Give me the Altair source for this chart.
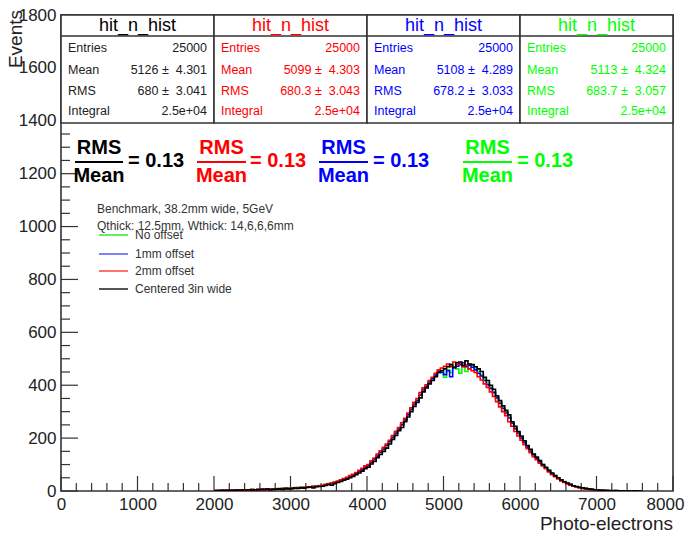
import altair as alt
import pandas as pd

# ---------------- data ----------------
BIN_START = 2000
BIN_WIDTH = 40

centered_3in = [
    2, 1, 3, 2, 3, 3, 2, 4, 3, 4, 4, 5, 3, 5, 4, 6, 5, 7, 4, 6,
    7, 8, 6, 9, 8, 9, 11, 10, 12, 11, 13, 15, 12, 16, 17, 18, 21, 24, 22, 28,
    32, 36, 41, 45, 50, 55, 62, 68, 75, 84, 90, 102, 112, 126, 138, 150, 162, 178, 195, 210,
    228, 240, 262, 280, 300, 320, 335, 352, 375, 390, 405, 418, 432, 448, 455, 462, 470, 478, 468, 485,
    488, 475, 492, 480, 478, 470, 462, 452, 430, 418, 400, 385, 360, 342, 322, 305, 288, 262, 245, 225,
    208, 190, 172, 158, 140, 128, 115, 100, 90, 78, 68, 58, 50, 42, 35, 30, 25, 20, 17, 14,
    12, 10, 8, 6, 5, 4, 3, 3, 2, 2, 1, 2, 1, 1, 0, 1, 0, 1, 0, 0,
]
offset_2mm = [
    2, 3, 2, 4, 3, 3, 4, 3, 5, 4, 5, 4, 6, 5, 6, 6, 7, 5, 8, 7,
    8, 9, 8, 10, 9, 11, 10, 13, 12, 14, 15, 14, 18, 17, 20, 22, 24, 27, 30, 34,
    38, 42, 47, 52, 58, 63, 70, 78, 86, 95, 100, 114, 125, 140, 152, 165, 178, 192, 210, 226,
    240, 258, 275, 295, 315, 335, 350, 372, 390, 402, 418, 430, 445, 458, 465, 472, 480, 470, 488, 478,
    482, 470, 476, 462, 455, 448, 432, 420, 405, 392, 375, 358, 338, 318, 300, 285, 262, 245, 225, 208,
    192, 175, 160, 145, 130, 118, 105, 95, 84, 72, 62, 54, 46, 38, 32, 27, 22, 18, 15, 12,
    10, 8, 7, 5, 4, 4, 3, 2, 2, 1, 2, 1, 1, 0, 1, 0, 1, 0, 0, 0,
]
offset_1mm = [
    1, 2, 2, 3, 2, 3, 3, 4, 3, 5, 4, 5, 5, 4, 6, 5, 7, 6, 7, 8,
    8, 7, 9, 10, 9, 10, 12, 11, 13, 13, 14, 16, 17, 18, 19, 20, 23, 26, 28, 31,
    35, 39, 44, 48, 54, 60, 66, 73, 80, 90, 96, 108, 120, 132, 146, 158, 172, 186, 202, 218,
    234, 250, 268, 288, 308, 328, 342, 362, 382, 396, 412, 425, 438, 452, 448, 440, 455, 432, 465, 472,
    478, 485, 470, 475, 468, 458, 445, 435, 418, 402, 388, 372, 352, 332, 312, 295, 276, 255, 235, 218,
    200, 183, 166, 150, 136, 122, 110, 98, 86, 75, 65, 56, 48, 40, 34, 28, 24, 19, 16, 13,
    11, 9, 7, 6, 4, 3, 3, 2, 2, 1, 1, 1, 1, 0, 0, 1, 0, 0, 0, 0,
]
no_offset = [
    2, 2, 3, 2, 4, 3, 4, 3, 4, 5, 5, 4, 6, 5, 5, 6, 6, 8, 7, 7,
    9, 8, 10, 9, 11, 10, 13, 12, 14, 13, 16, 15, 18, 19, 21, 22, 25, 28, 30, 33,
    36, 40, 45, 50, 56, 62, 68, 76, 82, 92, 98, 110, 122, 135, 148, 160, 175, 190, 205, 220,
    236, 252, 270, 290, 310, 330, 344, 365, 384, 398, 414, 426, 440, 448, 452, 430, 458, 448, 470, 462,
    445, 470, 452, 480, 475, 465, 452, 440, 425, 408, 392, 375, 356, 336, 316, 300, 280, 258, 240, 222,
    205, 186, 170, 154, 140, 126, 112, 100, 88, 78, 68, 58, 50, 42, 36, 30, 25, 20, 17, 14,
    11, 9, 8, 6, 5, 4, 3, 3, 2, 1, 1, 2, 1, 0, 1, 0, 1, 0, 0, 0,
]

hist_names = ["No offset", "1mm offset", "2mm offset", "Centered 3in wide"]
hist_counts = [no_offset, offset_1mm, offset_2mm, centered_3in]

stat_title = "hit_n_hist"
stat_entries = [25000, 25000, 25000, 25000]
stat_mean = ["5126", "5099", "5108", "5113"]
stat_mean_err = ["4.301", "4.303", "4.289", "4.324"]
stat_rms = ["680", "680.3", "678.2", "683.7"]
stat_rms_err = ["3.041", "3.043", "3.033", "3.057"]
stat_integral = ["2.5e+04", "2.5e+04", "2.5e+04", "2.5e+04"]
ratio_text = ["0.13", "0.13", "0.13", "0.13"]

note_lines = ["Benchmark, 38.2mm wide, 5GeV", "Qthick: 12.5mm, Wthick: 14,6,6,6mm"]

x_tick_values = list(range(0, 8001, 1000))
y_tick_values = list(range(0, 1801, 200))

# ---------------- styles / layout ----------------
FONT = "Liberation Sans"
W, H = 612, 476
X_DOMAIN = [0, 8000]
Y_DOMAIN = [0, 1800]
hist_colors = {"No offset": "#00ff00", "1mm offset": "#0000ff",
               "2mm offset": "#ff0000", "Centered 3in wide": "#000000"}
legend_colors = ["#66ee66", "#8080ff", "#ff7070", "#555555"]
stat_colors = ["#222222", "#ff0000", "#0000ff", "#00ff00"]
frac_colors = ["#000000", "#ff0000", "#0000ff", "#00ff00"]
FRAME = "#333333"


def px2x(px):
    return X_DOMAIN[0] + px / W * (X_DOMAIN[1] - X_DOMAIN[0])


def py2y(py):
    return Y_DOMAIN[1] - py / H * (Y_DOMAIN[1] - Y_DOMAIN[0])


xs = alt.Scale(domain=X_DOMAIN, nice=False, zero=False)
ys = alt.Scale(domain=Y_DOMAIN, nice=False, zero=False)

x_axis = alt.Axis(values=x_tick_values, ticks=False, grid=False, domain=False,
                  title=None, labelFontSize=17, labelFont=FONT, labelColor="#222",
                  labelFlush=False, labelOverlap=False, labelPadding=5, format="d",
                  labelOffset={"condition": {"test": f"datum.value == {X_DOMAIN[1]}", "value": -8},
                               "value": 0})
y_axis = alt.Axis(values=y_tick_values, ticks=False, grid=False, domain=False,
                  title=None, labelFontSize=17, labelFont=FONT, labelColor="#222",
                  labelFlush=False, labelOverlap=False, labelPadding=5, format="d")

XN = lambda f: alt.X(f, type="quantitative", scale=xs, axis=x_axis)
YN = lambda f: alt.Y(f, type="quantitative", scale=ys, axis=y_axis)

# ---------------- ticks ----------------
x_major = pd.DataFrame({"v": x_tick_values})
x_minor = pd.DataFrame({"v": [v for v in range(0, 8000, 200) if v % 1000]})
y_major = pd.DataFrame({"v": y_tick_values})
y_minor = pd.DataFrame({"v": [v for v in range(0, 1800, 50) if v % 200]})

xmaj = alt.Chart(x_major).mark_rule(color=FRAME, strokeWidth=1.2).encode(
    x=XN("v"), y=alt.value(H), y2=alt.value(H - 15))
xmin = alt.Chart(x_minor).mark_rule(color=FRAME, strokeWidth=1.2).encode(
    x=XN("v"), y=alt.value(H), y2=alt.value(H - 8))
ymaj = alt.Chart(y_major).mark_rule(color=FRAME, strokeWidth=1.2).encode(
    y=YN("v"), x=alt.value(0), x2=alt.value(17))
ymin = alt.Chart(y_minor).mark_rule(color=FRAME, strokeWidth=1.2).encode(
    y=YN("v"), x=alt.value(0), x2=alt.value(9))

# ---------------- histograms ----------------
hist_layers = []
for name, counts in zip(hist_names, hist_counts):
    xsv = [BIN_START + i * BIN_WIDTH for i in range(len(counts))] + [BIN_START + len(counts) * BIN_WIDTH]
    ysv = list(counts) + [counts[-1]]
    df = pd.DataFrame({"x": xsv, "y": ysv})
    hist_layers.append(
        alt.Chart(df).mark_line(interpolate="step-after", color=hist_colors[name],
                                strokeWidth=1.6, clip=True).encode(x=XN("x"), y=YN("y")))

# ---------------- stat boxes ----------------
nbox = 4
box_w = (X_DOMAIN[1] - X_DOMAIN[0]) / nbox
boxes = pd.DataFrame({"x0": [i * box_w for i in range(nbox)],
                      "x1": [(i + 1) * box_w for i in range(nbox)],
                      "y0": [py2y(0)] * nbox, "y1": [py2y(108)] * nbox,
                      "yh": [py2y(21)] * nbox})
box_rect = alt.Chart(boxes).mark_rect(fill="white", stroke=FRAME, strokeWidth=1.6).encode(
    x=XN("x0"), x2="x1:Q", y=YN("y0"), y2="y1:Q")
head_line = alt.Chart(boxes).mark_rule(color=FRAME, strokeWidth=1.6).encode(
    x=XN("x0"), x2="x1:Q", y=YN("yh"))

NB = "\u00a0"
rows_label, rows_val = [], []
row_py = [33, 55, 76, 96]
for i in range(nbox):
    labels = ["Entries", "Mean", "RMS", "Integral"]
    vals = [str(stat_entries[i]), f"{stat_mean[i]} ±{NB} {stat_mean_err[i]}",
            f"{stat_rms[i]} ±{NB} {stat_rms_err[i]}", stat_integral[i]]
    for lab, val, py in zip(labels, vals, row_py):
        rows_label.append({"x": i * box_w, "y": py2y(py), "t": lab, "c": stat_colors[i]})
        rows_val.append({"x": (i + 1) * box_w, "y": py2y(py), "t": val, "c": stat_colors[i]})
heads = pd.DataFrame({"x": [(i + 0.5) * box_w for i in range(nbox)], "y": [py2y(11)] * nbox,
                      "t": [stat_title] * nbox, "c": frac_colors})

head_txt = alt.Chart(heads).mark_text(font=FONT, fontSize=18, baseline="middle", align="center").encode(
    x=XN("x"), y=YN("y"), text="t:N", color=alt.Color("c:N", scale=None))
lab_txt = alt.Chart(pd.DataFrame(rows_label)).mark_text(font=FONT, fontSize=12.5, align="left",
                                                        baseline="middle", dx=7).encode(
    x=XN("x"), y=YN("y"), text="t:N", color=alt.Color("c:N", scale=None))
val_txt = alt.Chart(pd.DataFrame(rows_val)).mark_text(font=FONT, fontSize=12.5, align="right",
                                                      baseline="middle", dx=-7).encode(
    x=XN("x"), y=YN("y"), text="t:N", color=alt.Color("c:N", scale=None))

# ---------------- RMS/Mean fractions ----------------
frac_line_x = [(14, 62), (136, 185), (258, 307), (402, 451)]
frac_eq_x = [67, 189, 312, 456]
fr_rows, fr_lines, fr_eq = [], [], []
for i in range(nbox):
    a, b = frac_line_x[i]
    c = (a + b) / 2
    fr_rows.append({"x": px2x(c), "y": py2y(133), "t": "RMS", "c": frac_colors[i]})
    fr_rows.append({"x": px2x(c), "y": py2y(161), "t": "Mean", "c": frac_colors[i]})
    fr_lines.append({"a": px2x(a), "b": px2x(b), "y": py2y(147), "c": frac_colors[i]})
    fr_eq.append({"x": px2x(frac_eq_x[i]), "y": py2y(146), "t": f"= {ratio_text[i]}", "c": frac_colors[i]})

fr_txt = alt.Chart(pd.DataFrame(fr_rows)).mark_text(font=FONT, fontSize=20, fontWeight="bold",
                                                    align="center", baseline="middle").encode(
    x=XN("x"), y=YN("y"), text="t:N", color=alt.Color("c:N", scale=None))
fr_rule = alt.Chart(pd.DataFrame(fr_lines)).mark_rule(strokeWidth=2).encode(
    x=XN("a"), x2="b:Q", y=YN("y"), color=alt.Color("c:N", scale=None))
fr_eqt = alt.Chart(pd.DataFrame(fr_eq)).mark_text(font=FONT, fontSize=20, fontWeight="bold",
                                                  align="left", baseline="middle").encode(
    x=XN("x"), y=YN("y"), text="t:N", color=alt.Color("c:N", scale=None))

# ---------------- notes + legend ----------------
notes = pd.DataFrame({"x": [px2x(36)] * 2, "y": [py2y(194), py2y(211)], "t": note_lines})
note_txt = alt.Chart(notes).mark_text(font=FONT, fontSize=12, align="left", baseline="middle",
                                      color="#333").encode(x=XN("x"), y=YN("y"), text="t:N")

leg_py = [220, 239, 256, 274]
leg = pd.DataFrame({"a": [px2x(38)] * 4, "b": [px2x(67)] * 4, "tx": [px2x(74)] * 4,
                    "y": [py2y(p) for p in leg_py], "t": hist_names, "c": legend_colors})
leg_rule = alt.Chart(leg).mark_rule(strokeWidth=2).encode(
    x=XN("a"), x2="b:Q", y=YN("y"), color=alt.Color("c:N", scale=None))
leg_txt = alt.Chart(leg).mark_text(font=FONT, fontSize=12, align="left", baseline="middle",
                                   color="#333").encode(x=XN("tx"), y=YN("y"), text="t:N")

# ---------------- axis titles ----------------
ytitle = alt.Chart(pd.DataFrame({"x": [px2x(-45)], "y": [py2y(-5)], "t": ["Events"]})).mark_text(
    font=FONT, fontSize=19, angle=270, align="right", baseline="middle", color="#222").encode(
    x=XN("x"), y=YN("y"), text="t:N")
xtitle = alt.Chart(pd.DataFrame({"x": [px2x(W)], "y": [py2y(509)], "t": ["Photo-electrons"]})).mark_text(
    font=FONT, fontSize=19, align="right", baseline="middle", color="#222").encode(
    x=XN("x"), y=YN("y"), text="t:N")

chart = alt.layer(
    xmaj, xmin, ymaj, ymin, *hist_layers, box_rect, head_line, head_txt, lab_txt, val_txt,
    fr_rule, fr_txt, fr_eqt, note_txt, leg_rule, leg_txt, ytitle, xtitle
).properties(
    width=W, height=H,
    background="white",
    autosize=alt.AutoSizeParams(type="none"),
    padding={"left": 53, "top": 7, "right": 12, "bottom": 45},
).configure_view(stroke=FRAME, strokeWidth=1.6)

chart.save("out.html", embed_options={"renderer": "svg", "actions": False})
